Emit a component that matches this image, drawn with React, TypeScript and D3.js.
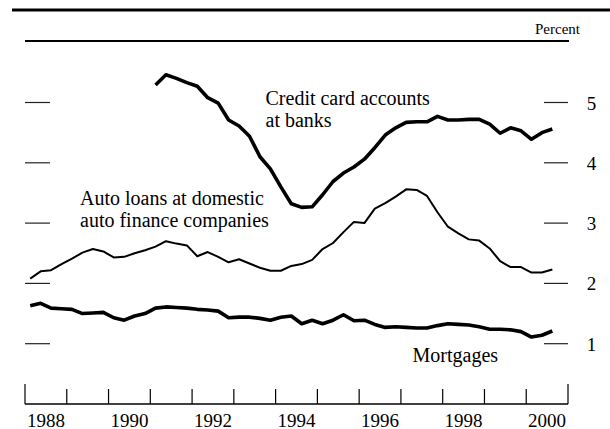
import React from "react";
import * as d3 from "d3";

const yTicks = [1, 2, 3, 4, 5];
const yearLabels = ["1988", "1990", "1992", "1994", "1996", "1998", "2000"];
const startYear = 1988;
const endYear = 2001;

// Quarterly delinquency rates, 1988Q1 - 2000Q3
const mortgages = [
  1.63, 1.67, 1.59, 1.58, 1.57, 1.5, 1.51, 1.52, 1.43, 1.39, 1.46, 1.5,
  1.59, 1.61, 1.6, 1.59, 1.57, 1.56, 1.54, 1.43, 1.44, 1.44, 1.42, 1.39,
  1.44, 1.46, 1.33, 1.39, 1.33, 1.39, 1.48, 1.38, 1.39, 1.32, 1.27, 1.28,
  1.27, 1.26, 1.26, 1.3, 1.33, 1.32, 1.31, 1.28, 1.24, 1.24, 1.23, 1.2,
  1.11, 1.14, 1.21,
];
const autoLoans = [
  2.08, 2.2, 2.22, 2.32, 2.41, 2.51, 2.57, 2.53, 2.43, 2.44, 2.5, 2.55,
  2.61, 2.7, 2.66, 2.63, 2.45, 2.52, 2.44, 2.35, 2.4, 2.33, 2.26, 2.21,
  2.21, 2.29, 2.32, 2.39, 2.57, 2.67, 2.85, 3.02, 3.0, 3.24, 3.33, 3.44,
  3.56, 3.55, 3.45, 3.18, 2.94, 2.83, 2.73, 2.71, 2.58, 2.37, 2.27, 2.27,
  2.18, 2.18, 2.23,
];
// 1991Q1 - 2000Q3
const creditCardStartIndex = 12;
const creditCards = [
  5.29, 5.46, 5.4, 5.33, 5.27, 5.08, 4.99, 4.71, 4.61, 4.44, 4.1, 3.9,
  3.6, 3.32, 3.26, 3.27, 3.47, 3.69, 3.83, 3.93, 4.06, 4.25, 4.46, 4.58,
  4.67, 4.68, 4.68, 4.77, 4.71, 4.71, 4.72, 4.72, 4.64, 4.49, 4.58, 4.53,
  4.39, 4.5, 4.56,
];

const FONT = "'Liberation Serif', 'Times New Roman', Times, serif";

export default function App() {
  const x = d3.scaleLinear().domain([startYear, endYear]).range([25, 568]);
  const y = d3.scaleLinear().domain([0, 5]).range([404, 102.5]);
  const qx = (i: number) => x(startYear + (i + 0.5) / 4);

  const line = d3
    .line<[number, number]>()
    .x((d) => d[0])
    .y((d) => d[1]);

  const mortPts = mortgages.map((v, i) => [qx(i), y(v)] as [number, number]);
  const autoPts = autoLoans.map((v, i) => [qx(i), y(v)] as [number, number]);
  const ccPts = creditCards.map(
    (v, i) => [qx(i + creditCardStartIndex), y(v)] as [number, number]
  );

  const years = d3.range(startYear, endYear + 1);

  return (
    <svg
      width={610}
      height={429}
      style={{ position: "absolute", left: 0, top: 0, background: "#fff" }}
      fontFamily={FONT}
    >
      <line x1={12} x2={610} y1={10} y2={10} stroke="#000" strokeWidth={3} />
      <text x={580} y={34} fontSize={15} textAnchor="end" fill="#000">
        Percent
      </text>
      <line x1={25} x2={569} y1={41} y2={41} stroke="#000" strokeWidth={2.2} />

      {yTicks.map((t) => (
        <g key={t}>
          <line x1={25} x2={50} y1={y(t)} y2={y(t)} stroke="#222" strokeWidth={1.2} />
          <line x1={544} x2={568} y1={y(t)} y2={y(t)} stroke="#222" strokeWidth={1.2} />
          <text x={591.5} y={y(t) + 7} fontSize={19} textAnchor="middle" fill="#000">
            {t}
          </text>
        </g>
      ))}

      <line x1={x(startYear)} x2={x(endYear)} y1={404} y2={404} stroke="#000" strokeWidth={1.5} />
      {years.map((yr, i) => {
        const end = i === 0 || i === years.length - 1;
        return (
          <line
            key={yr}
            x1={x(yr)}
            x2={x(yr)}
            y1={end ? 384 : 389}
            y2={404}
            stroke="#000"
            strokeWidth={1.2}
          />
        );
      })}
      {yearLabels.map((lbl) => (
        <text
          key={lbl}
          x={x(+lbl + 0.5)}
          y={426.5}
          fontSize={19}
          textAnchor="middle"
          fill="#000"
        >
          {lbl}
        </text>
      ))}

      <path d={line(autoPts) || ""} fill="none" stroke="#000" strokeWidth={2} strokeLinejoin="round" />
      <path d={line(mortPts) || ""} fill="none" stroke="#000" strokeWidth={3.6} strokeLinejoin="round" />
      <path d={line(ccPts) || ""} fill="none" stroke="#000" strokeWidth={3.6} strokeLinejoin="round" />

      <text x={265.5} y={104.5} fontSize={20} fill="#000">
        Credit card accounts
      </text>
      <text x={265.5} y={127} fontSize={20} fill="#000">
        at banks
      </text>
      <text x={80} y={205} fontSize={20} fill="#000">
        Auto loans at domestic
      </text>
      <text x={80} y={227} fontSize={20} fill="#000">
        auto finance companies
      </text>
      <text x={412.5} y={362} fontSize={20} fill="#000">
        Mortgages
      </text>
    </svg>
  );
}
